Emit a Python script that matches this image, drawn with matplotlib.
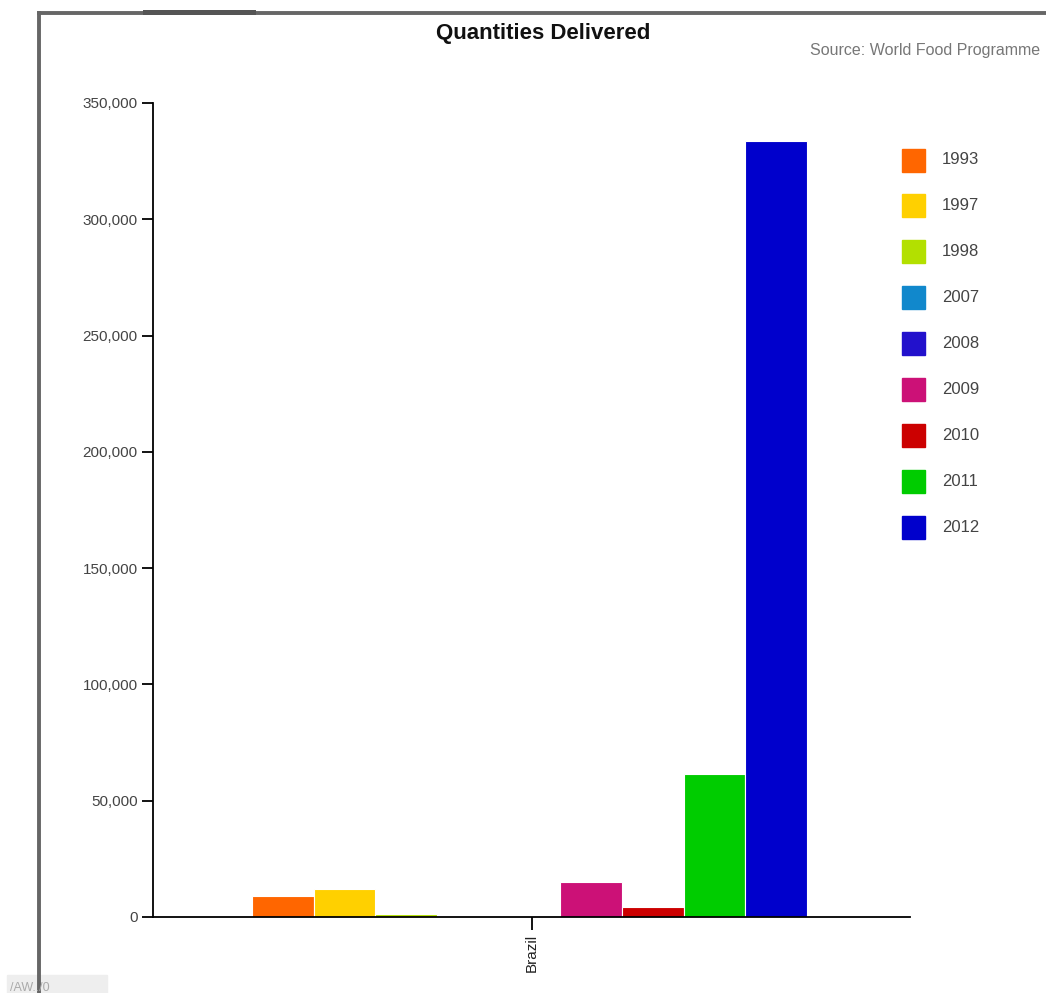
import matplotlib.pyplot as plt
from matplotlib.lines import Line2D
from matplotlib.patches import Rectangle
from matplotlib.ticker import FuncFormatter

plt.rcParams['font.family'] = ['Liberation Sans', 'DejaVu Sans']

# data
country = 'Brazil'
years = ['1993', '1997', '1998', '2007', '2008', '2009', '2010', '2011', '2012']
quantities = [9000, 12000, 1300, 300, 400, 15000, 4300, 61500, 333600]
colors = ['#ff6600', '#ffd000', '#b3e000', '#1188cc', '#2211cc',
          '#cc1177', '#cc0000', '#00cc00', '#0000cc']

W, H = 1046, 993
fig = plt.figure(figsize=(W / 100, H / 100), dpi=100)
ax = fig.add_axes([153 / W, (H - 917) / H, (910 - 153) / W, (917 - 103) / H])

group_w = 0.733
center = -0.0025
bw = group_w / len(years)
for i, (yr, q, c) in enumerate(zip(years, quantities, colors)):
    x = center - group_w / 2 + bw * (i + 0.5)
    ax.bar(x, q, width=bw, color=c, edgecolor='white', linewidth=0.8)

ax.set_xlim(-0.5, 0.5)
ax.set_ylim(0, 350000)
ax.set_yticks(range(0, 350001, 50000))
ax.yaxis.set_major_formatter(FuncFormatter(lambda v, p: f'{int(v):,}'))
ax.set_xticks([0])
ax.set_xticklabels([country], rotation=90, fontsize=13)

for s in ['top', 'right']:
    ax.spines[s].set_visible(False)
for s in ['left', 'bottom']:
    ax.spines[s].set_linewidth(1.3)
    ax.spines[s].set_color('black')
ax.tick_params(axis='both', direction='out', length=8, width=1.3,
               labelsize=11, labelcolor='#444444', pad=3)
ax.tick_params(axis='x', length=9, labelcolor='#222222')

# legend squares
for i, (yr, c) in enumerate(zip(years, colors)):
    yc = 160 + i * 45.9
    fig.add_artist(Rectangle((902 / W, 1 - (yc + 11.5) / H), 23 / W, 23 / H,
                             transform=fig.transFigure, color=c))
    fig.text(942 / W, 1 - yc / H, yr, fontsize=12, color='#444444',
             va='center', ha='left')

fig.text(543 / W, 1 - 34 / H, 'Quantities Delivered', fontsize=16,
         fontweight='bold', ha='center', va='center', color='#111111')
fig.text(1040 / W, 1 - 50 / H, 'Source: World Food Programme', fontsize=11.5,
         ha='right', va='center', color='#777777')

# page frame
fig.add_artist(Line2D([38.5 / W, 1], [1 - 12.5 / H] * 2, color='#666666',
                      linewidth=2.8, transform=fig.transFigure))
fig.add_artist(Line2D([145 / W, 253 / W], [1 - 11.5 / H] * 2, color='#555555',
                      linewidth=3.6, transform=fig.transFigure))
fig.add_artist(Line2D([38.5 / W] * 2, [0, 1 - 12.5 / H], color='#666666',
                      linewidth=2.8, transform=fig.transFigure))
fig.add_artist(Rectangle((7 / W, 0), 100 / W, 18 / H, transform=fig.transFigure,
                         color='#eeeeee'))
fig.text(10 / W, 2 / H, '/AW../0', fontsize=9, color='#aaaaaa')

fig.savefig('out.png', dpi=100)
